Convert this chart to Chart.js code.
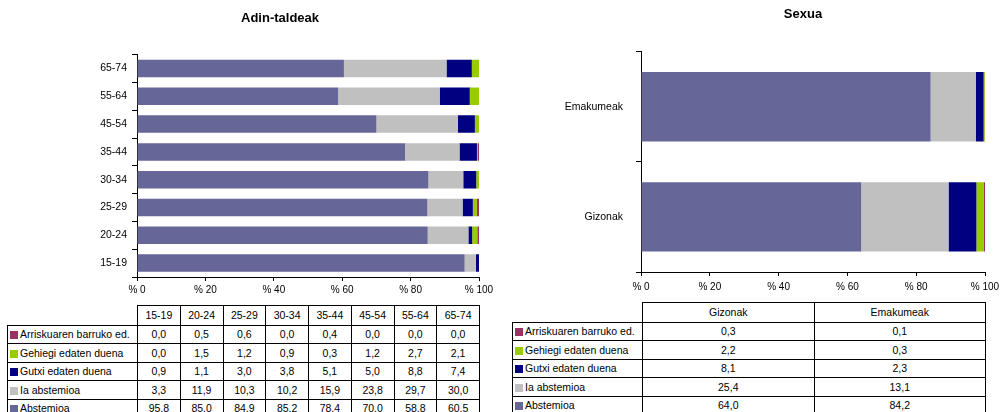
<!DOCTYPE html>
<html>
<head>
<meta charset="utf-8">
<title>Adin-taldeak / Sexua</title>
<script src="https://cdn.jsdelivr.net/npm/chart.js@4.4.0/dist/chart.umd.min.js"></script>
<style>
    html, body { margin: 0; padding: 0; background: #fff; }
    body { width: 1003px; height: 412px; overflow: hidden; position: relative; font-family: 'Liberation Sans', Arial, sans-serif; }
    #age-chart { position: absolute; left: 0; top: 0; }
    #sex-chart { position: absolute; left: 560px; top: 0; }
    table { position: absolute; border-collapse: collapse; table-layout: fixed; font-size: 10.5px; color: #000; }
    td { border: 1px solid #000; padding: 0; text-align: center; white-space: nowrap; overflow: hidden; line-height: 12px; }
    tr { height: 18.5px; }
    tr.head { height: 19.5px; }
    td.blank { border: none; }
    td.name { text-align: left; padding-left: 2px; }
    .swatch { display: inline-block; width: 8px; height: 8px; margin-right: 2px; vertical-align: -1px; }
    #age-table { left: 7px; top: 305px; }
    #sex-table { left: 512px; top: 302px; }
</style>
</head>
<body>
<canvas id="age-chart" width="560" height="300"></canvas>
<canvas id="sex-chart" width="486" height="300"></canvas>
<table id="age-table"></table>
<table id="sex-table"></table>
<script>
// Categories
const ageGroups = ['15-19', '20-24', '25-29', '30-34', '35-44', '45-54', '55-64', '65-74'];
const sexGroups = ['Gizonak', 'Emakumeak'];

// Series (stack order, left to right)
const seriesNames = ['Abstemioa', 'Ia abstemioa', 'Gutxi edaten duena', 'Gehiegi edaten duena', 'Arriskuaren barruko ed.'];
const seriesColors = ['#666699', '#C0C0C0', '#000080', '#99CC00', '#993366'];

// Adin-taldeak values (%)
const abstemioaAge = [95.8, 85.0, 84.9, 85.2, 78.4, 70.0, 58.8, 60.5];
const iaAbstemioaAge = [3.3, 11.9, 10.3, 10.2, 15.9, 23.8, 29.7, 30.0];
const gutxiAge = [0.9, 1.1, 3.0, 3.8, 5.1, 5.0, 8.8, 7.4];
const gehiegiAge = [0.0, 1.5, 1.2, 0.9, 0.3, 1.2, 2.7, 2.1];
const arriskuAge = [0.0, 0.5, 0.6, 0.0, 0.4, 0.0, 0.0, 0.0];

// Sexua values (%)
const abstemioaSex = [64.0, 84.2];
const iaAbstemioaSex = [25.4, 13.1];
const gutxiSex = [8.1, 2.3];
const gehiegiSex = [2.2, 0.3];
const arriskuSex = [0.3, 0.1];

// X axis ticks
const xTickStep = 20;
const xTickPrefix = '% ';

const ageSeries = [abstemioaAge, iaAbstemioaAge, gutxiAge, gehiegiAge, arriskuAge];
const sexSeries = [abstemioaSex, iaAbstemioaSex, gutxiSex, gehiegiSex, arriskuSex];

Chart.defaults.font.family = "'Liberation Sans', Arial, sans-serif";
Chart.defaults.color = '#000';
Chart.defaults.animation = false;

function buildDatasets(seriesValues) {
    return seriesNames.map((name, i) => ({
        label: name,
        data: seriesValues[i],
        backgroundColor: seriesColors[i],
        borderWidth: 0,
        barPercentage: 0.63,
        categoryPercentage: 1
    }));
}

function makeChart(canvasId, labels, seriesValues, cfg) {
    const ctx = document.getElementById(canvasId).getContext('2d');
    return new Chart(ctx, {
        type: 'bar',
        data: { labels: labels, datasets: buildDatasets(seriesValues) },
        options: {
            indexAxis: 'y',
            responsive: false,
            layout: { padding: { left: 0, right: 0, top: 0, bottom: cfg.bottomPad } },
            plugins: {
                legend: { display: false },
                tooltip: { enabled: false },
                title: {
                    display: true,
                    text: cfg.title,
                    color: '#000',
                    font: { size: 13, weight: 'bold' },
                    padding: { top: cfg.titleTop, bottom: cfg.titleBottom }
                }
            },
            scales: {
                x: {
                    stacked: true,
                    min: 0,
                    max: 100,
                    ticks: {
                        stepSize: xTickStep,
                        padding: cfg.xTickPad,
                        font: { size: 10 },
                        callback: v => xTickPrefix + v
                    },
                    grid: { drawOnChartArea: false, color: '#000', tickLength: 4 },
                    border: { color: '#000' },
                    afterFit: scale => { scale.paddingRight = cfg.rightPad; }
                },
                y: {
                    stacked: true,
                    reverse: true,
                    ticks: { padding: cfg.yTickPad, font: { size: 10.5 } },
                    grid: { drawOnChartArea: false, color: '#000', tickLength: 5, offset: true },
                    border: { color: '#000' },
                    afterFit: scale => { scale.width = cfg.yAxisWidth; }
                }
            }
        }
    });
}

function formatValue(v) {
    return v.toFixed(1).replace('.', ',');
}

// Data table under each chart: legend rows in reverse stack order
function buildTable(tableId, labels, seriesValues, nameWidth, colWidth) {
    const table = document.getElementById(tableId);
    let html = '<colgroup><col style="width:' + nameWidth + 'px">';
    labels.forEach(() => { html += '<col style="width:' + colWidth + 'px">'; });
    html += '</colgroup>';

    html += '<tr class="head"><td class="blank"></td>';
    labels.forEach(l => { html += '<td>' + l + '</td>'; });
    html += '</tr>';

    for (let i = seriesNames.length - 1; i >= 0; i--) {
        html += '<tr><td class="name"><span class="swatch" style="background:' + seriesColors[i] + '"></span>' + seriesNames[i] + '</td>';
        seriesValues[i].forEach(v => { html += '<td>' + formatValue(v) + '</td>'; });
        html += '</tr>';
    }
    table.innerHTML = html;
}

makeChart('age-chart', ageGroups, ageSeries, {
    title: 'Adin-taldeak',
    titleTop: 11,
    titleBottom: 28,
    yAxisWidth: 137,
    rightPad: 81,
    yTickPad: 5,
    xTickPad: 3.5,
    bottomPad: 0
});

makeChart('sex-chart', sexGroups, sexSeries, {
    title: 'Sexua',
    titleTop: 7,
    titleBottom: 29,
    yAxisWidth: 81,
    rightPad: 61,
    yTickPad: 13,
    xTickPad: 5,
    bottomPad: 2
});

buildTable('age-table', ageGroups, ageSeries, 130, 42.75);
buildTable('sex-table', sexGroups, sexSeries, 130, 171.5);
</script>
</body>
</html>
